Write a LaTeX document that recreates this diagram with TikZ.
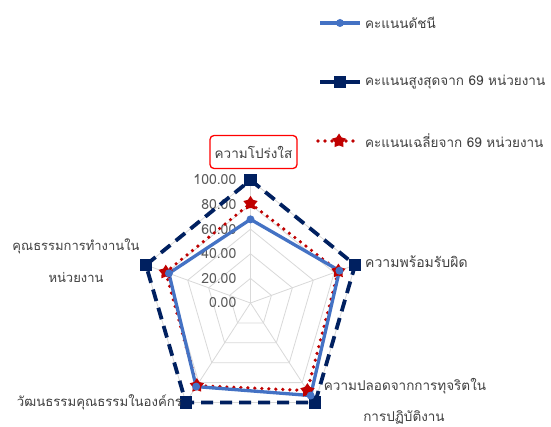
\documentclass[tikz,border=0pt]{standalone}
\usepackage{fontspec}
\setmainfont[Script=Thai]{Loma}
\usetikzlibrary{shapes.geometric}
\definecolor{idxblue}{HTML}{4472C4}
\definecolor{maxnavy}{HTML}{002060}
\definecolor{avgred}{HTML}{C00000}
\definecolor{gridgray}{HTML}{D9D9D9}
\definecolor{txtgray}{HTML}{404040}
\definecolor{axgray}{HTML}{595959}
\tikzset{
  grid/.style={draw=gridgray, line width=0.8pt},
  idxline/.style={draw=idxblue, line width=3.3pt, line join=round},
  maxline/.style={draw=maxnavy, line width=3.8pt, dash pattern=on 12pt off 7pt},
  avgline/.style={draw=avgred, line width=3.6pt, line cap=round, dash pattern=on 0pt off 7pt},
  idxmark/.style={circle, fill=idxblue, inner sep=0pt, minimum size=8pt},
  maxmark/.style={rectangle, fill=maxnavy, inner sep=0pt, minimum size=12.5pt},
  avgmark/.style={star, star points=5, star point ratio=1.7, fill=avgred, inner sep=0pt, minimum size=15pt},
  axlab/.style={text=axgray, font=\fontsize{14}{16}\selectfont, anchor=east, inner sep=0pt},
  catlab/.style={text=txtgray, font=\fontsize{13.5}{16}\selectfont, inner sep=0pt},
  leglab/.style={text=txtgray, font=\fontsize{13.5}{16}\selectfont, anchor=west, inner sep=0pt},
}
\begin{document}
\begin{tikzpicture}[x=1pt,y=-1pt]
\useasboundingbox[fill=white] (0,0) rectangle (551,427);
\begin{scope}[shift={(250.5pt,-303pt)}, x=1.10pt, y=1.23pt]
  \coordinate (o) at (0,0);
  \foreach \r in {20,40,60,80,100}
    \draw[grid] (90:\r) -- (18:\r) -- (-54:\r) -- (-126:\r) -- (162:\r) -- cycle;
  \foreach \a in {90,18,-54,-126,162}
    \draw[grid] (o) -- (\a:100);
  % index series
  \coordinate (i1) at (90:68);
  \coordinate (i2) at (18:85);
  \coordinate (i3) at (-54:93);
  \coordinate (i4) at (-126:84);
  \coordinate (i5) at (162:78);
  % max series
  \coordinate (m1) at (90:100);
  \coordinate (m2) at (18:100);
  \coordinate (m3) at (-54:100);
  \coordinate (m4) at (-126:100);
  \coordinate (m5) at (162:100);
  % average series
  \coordinate (a1) at (90:81);
  \coordinate (a2) at (18:84);
  \coordinate (a3) at (-54:88);
  \coordinate (a4) at (-126:83);
  \coordinate (a5) at (162:81);
  \foreach \r in {0,20,40,60,80,100}
    \node[axlab, xshift=-14pt] (ax\r) at (90:\r) {\r.00};
\end{scope}
\draw[maxline] (m1) -- (m2) -- (m3) -- (m4) -- (m5) -- cycle;
\draw[avgline] (a1) -- (a2) -- (a3) -- (a4) -- (a5) -- cycle;
\draw[idxline] (i1) -- (i2) -- (i3) -- (i4) -- (i5) -- cycle;
\foreach \k in {1,...,5} {
  \node[maxmark] at (m\k) {};
  \node[avgmark] at (a\k) {};
  \node[idxmark] at (i\k) {};
}
% category labels
\node[catlab, draw=red, line width=1.3pt, rounded corners=4pt, minimum width=87pt, minimum height=33pt] (c1) at (253.5,152) {ความโปร่งใส};
\node[catlab, anchor=west, font=\fontsize{14}{16}\selectfont] (c2) at (365,262) {ความพร้อมรับผิด};
\node[catlab] (c3a) at (405,386.5) {ความปลอดจากการทุจริตใน};
\node[catlab] (c3b) at (404,417) {การปฏิบัติงาน};
\node[catlab, align=center, font=\fontsize{13}{32}\selectfont] (c4) at (76,261) {คุณธรรมการทำงานใน\\หน่วยงาน};
\node[catlab, font=\fontsize{13.2}{16}\selectfont] (c5) at (99.5,402) {วัฒนธรรมคุณธรรมในองค์กร};
% legend
\coordinate (l1a) at (320,23); \coordinate (l1b) at (360,23);
\coordinate (l2a) at (320,82); \coordinate (l2b) at (360,82);
\coordinate (l3a) at (318,141); \coordinate (l3b) at (358,141);
\draw[idxline] (l1a) -- (l1b);
\node[idxmark] (k1) at (340,23) {};
\draw[maxline, dash pattern=on 10pt off 0pt] (l2a) -- (l2b);
\node[maxmark] (k2) at (340,82) {};
\draw[avgline] (l3a) -- (l3b);
\node[avgmark] (k3) at (339,141) {};
\node[leglab] (t1) at (365,23) {คะแนนดัชนี};
\node[leglab] (t2) at (365,82) {คะแนนสูงสุดจาก 69 หน่วยงาน};
\node[leglab] (t3) at (365,141) {คะแนนเฉลี่ยจาก 69 หน่วยงาน};
\end{tikzpicture}
\end{document}
